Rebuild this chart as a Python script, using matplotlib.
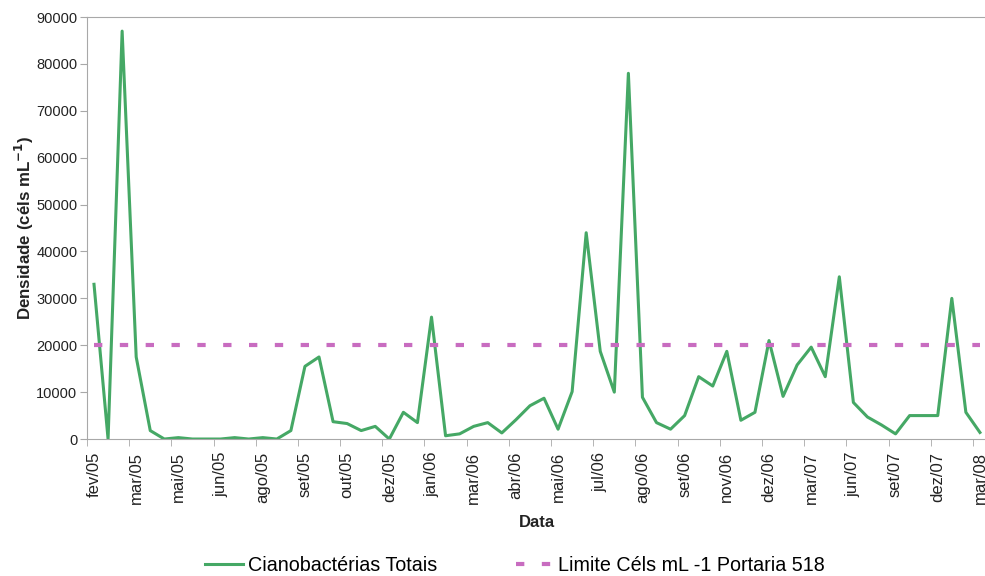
import numpy as np
import matplotlib
matplotlib.use("Agg")
import matplotlib.pyplot as plt

plt.rcParams['font.family'] = ['Liberation Sans', 'DejaVu Sans']

# one value per sampling date (category axis, labels every 3rd sample)
densidade = [33000, 0, 87000, 17500, 1800, 0, 300, 0, 0, 0,
             300, 0, 300, 0, 1800, 15500, 17500, 3700, 3300, 1800,
             2700, 0, 5700, 3500, 26000, 700, 1100, 2700, 3500, 1300,
             4100, 7100, 8700, 2100, 10100, 44000, 18700, 10000, 78000, 8900,
             3500, 2100, 5000, 13300, 11300, 18700, 4000, 5700, 21000, 9100,
             15800, 19600, 13300, 34600, 7800, 4700, 3000, 1100, 5000, 5000,
             5000, 30000, 5700, 1400]
limite = 20000
rotulos = ['fev/05', 'mar/05', 'mai/05', 'jun/05', 'ago/05', 'set/05', 'out/05',
           'dez/05', 'jan/06', 'mar/06', 'abr/06', 'mai/06', 'jul/06', 'ago/06',
           'set/06', 'nov/06', 'dez/06', 'mar/07', 'jun/07', 'set/07', 'dez/07',
           'mar/08']

x = np.arange(len(densidade))

fig = plt.figure(figsize=(9.85, 5.76), dpi=100)
ax = fig.add_axes([0.0883, 0.2378, 0.9137, 0.7326])

ax.plot(x, densidade, color='#45A865', lw=2.2, label='Cianobactérias Totais')
ax.plot(x, [limite] * len(x), color='#C86CC0', lw=3, dashes=(2, 4.2),
        label='Limite Céls mL -1 Portaria 518')

ax.set_xlim(-0.5, len(x) - 0.5)
ax.set_ylim(0, 90000)
ax.set_yticks(np.arange(0, 90001, 10000))
ax.set_xticks(x[::3])
ax.set_xticklabels(rotulos, rotation=90)
ax.set_xticks(np.arange(-0.5, len(x), 3), minor=True)

for s in ax.spines.values():
    s.set_color('#A8A8A8')
ax.tick_params(axis='y', length=5, color='#A8A8A8', labelsize=10.5,
               labelcolor='#222222', pad=2)
ax.tick_params(axis='x', which='major', length=0, labelsize=12,
               labelcolor='#222222', pad=9)
ax.tick_params(axis='x', which='minor', length=5, color='#A8A8A8')

ax.set_ylabel('Densidade (céls mL$^{\\mathbf{-1}}$)', fontsize=12.2,
              fontweight='bold', color='#222222')
ax.yaxis.set_label_coords(-0.057, 0.5)
ax.set_xlabel('Data', fontsize=12, fontweight='bold', color='#222222')
ax.xaxis.set_label_coords(0.5, -0.18)

fig.legend(loc='center', bbox_to_anchor=(0.523, 0.019), ncol=2, frameon=False,
           fontsize=14.2, handlelength=1.9, handletextpad=0.25, columnspacing=4.0)

fig.savefig('out.png', dpi=100)
